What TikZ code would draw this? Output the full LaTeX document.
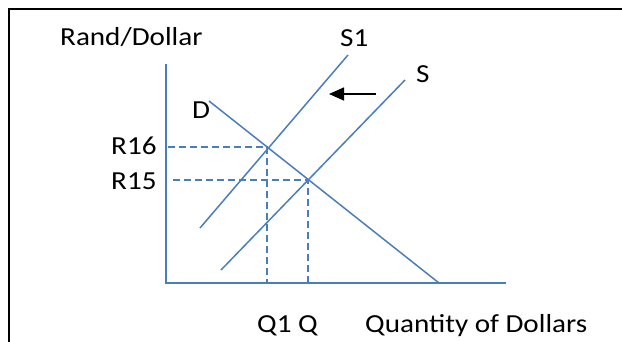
\documentclass[tikz,border=0pt]{standalone}
\usepackage{fontspec}
\setmainfont{Carlito}[FakeStretch=1.12]
\usetikzlibrary{arrows.meta}
\definecolor{curve}{HTML}{4A7EBB}
\tikzset{
  lbl/.style={anchor=base west, inner sep=0pt, font=\fontsize{26}{30}\selectfont},
  curveline/.style={draw=curve, line width=1.5pt},
  guide/.style={draw=curve, line width=1.5pt, dash pattern=on 7pt off 4pt},
  shiftarrow/.style={draw=black, line width=1.5pt, -{Triangle[length=15pt,width=13pt]}},
  frameline/.style={draw=black, line width=2pt}
}
\begin{document}
\begin{tikzpicture}[x=1pt,y=-1pt]
\useasboundingbox (0,0) rectangle (622,342);
% frame
\coordinate (fb) at (9,343);
\coordinate (fc) at (9,9);
\coordinate (fr) at (623,9);
\draw[frameline] (fb) -- (fc) -- (fr);
% axes
\coordinate (O) at (166,283);
\coordinate (ytop) at (166,64);
\coordinate (xend) at (506,283);
\draw[curveline] (ytop) -- (O) -- (xend);
% curves
\coordinate (D0) at (209,101);
\coordinate (D1) at (439,283);
\coordinate (S10) at (200,228);
\coordinate (S11) at (348,55);
\coordinate (S0) at (221,270);
\coordinate (S1e) at (405,80);
\draw[curveline] (D0) -- (D1);
\draw[curveline] (S10) -- (S11);
\draw[curveline] (S0) -- (S1e);
% equilibria and guides
\coordinate (E1) at (267,147);
\coordinate (E2) at (308,180);
\coordinate (y16) at (168,147);
\coordinate (y15) at (173,180);
\coordinate (q1) at (267,283);
\coordinate (q) at (308,283);
\draw[guide] (y16) -- (E1) -- (q1);
\draw[guide] (y15) -- (E2) -- (q);
% shift arrow
\coordinate (at) at (376,94);
\coordinate (ah) at (329,94);
\draw[shiftarrow] (at) -- (ah);
% labels
\node[lbl] (ylab) at (60,46) {Rand/Dollar};
\node[lbl] (s1lab) at (340,47) {S1};
\node[lbl] (slab) at (416,83) {S};
\node[lbl] (dlab) at (192,119) {D};
\node[lbl] (r16) at (111,155) {R16};
\node[lbl] (r15) at (111,190) {R15};
\node[lbl] (qlab) at (257,332) {Q1 Q};
\node[lbl] (xlab) at (365,332) {Quantity of Dollars};
\end{tikzpicture}
\end{document}
